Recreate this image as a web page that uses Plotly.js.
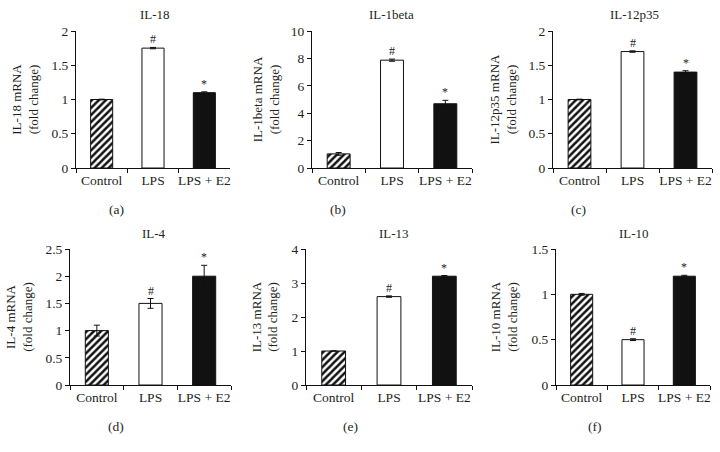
<!DOCTYPE html>
<html><head><meta charset="utf-8">
<script src="https://cdn.plot.ly/plotly-3.0.1.min.js"></script>
<style>html,body{margin:0;padding:0;background:#fff}#chart{width:720px;height:452px}</style>
</head><body><div id="chart"></div>
<script>
const categories = ["Control", "LPS", "LPS + E2"];
const panelTitles = ["IL-18", "IL-1beta", "IL-12p35", "IL-4", "IL-13", "IL-10"];
const panelLetters = ["(a)", "(b)", "(c)", "(d)", "(e)", "(f)"];
const yTitles = ["IL-18 mRNA<br>(fold change)", "IL-1beta mRNA<br>(fold change)", "IL-12p35 mRNA<br>(fold change)",
                 "IL-4 mRNA<br>(fold change)", "IL-13 mRNA<br>(fold change)", "IL-10 mRNA<br>(fold change)"];
const il18 = [1.0, 1.75, 1.10];
const il18Err = [0.005, 0.01, 0.012];
const il1beta = [1.03, 7.87, 4.69];
const il1betaErr = [0.1, 0.08, 0.25];
const il12p35 = [1.0, 1.70, 1.40];
const il12p35Err = [0.005, 0.01, 0.02];
const il4 = [1.0, 1.5, 2.0];
const il4Err = [0.1, 0.09, 0.2];
const il13 = [1.0, 2.6, 3.2];
const il13Err = [0.005, 0.02, 0.02];
const il10 = [1.0, 0.5, 1.2];
const il10Err = [0.01, 0.01, 0.01];
const sigMarks = ["", "#", "*"];
const yRanges = [[0, 2], [0, 10], [0, 2], [0, 2.5], [0, 4], [0, 1.5]];
const yDtick = [0.5, 2, 0.5, 0.5, 1, 0.5];

const values = [il18, il1beta, il12p35, il4, il13, il10];
const errors = [il18Err, il1betaErr, il12p35Err, il4Err, il13Err, il10Err];

// bar styles per category
const barFill = ["#ffffff", "#ffffff", "#111111"];
const barPattern = ["/", "", ""];

// layout geometry (pixels)
const W = 720, H = 452;
const xPix = [[76, 230], [312, 472], [553, 712], [70, 231], [306, 472], [556, 710]];
const yPix = [[31, 168], [31, 168], [31, 168], [249, 385], [249, 385], [249, 385]];
const titlePos = [[155, 14], [392, 14], [634, 14], [154, 233], [394, 233], [634, 233]];
const letterPos = [[116, 210], [338, 210], [578, 210], [116, 426], [350, 426], [595, 426]];
const standoffs = [9, 8, 8.5, 9, 10, 10.5];

const font = {family: "Liberation Serif, Times New Roman, serif", size: 13.5, color: "#231f20"};
const titleFont = {family: font.family, size: 13, color: font.color};
const traces = [];
const layout = {
  width: W, height: H, margin: {l: 0, r: 0, t: 0, b: 0},
  paper_bgcolor: "#fff", plot_bgcolor: "#fff", showlegend: false,
  font: font, annotations: [], barmode: "overlay"
};

for (let i = 0; i < 6; i++) {
  const s = i === 0 ? "" : String(i + 1);
  for (let j = 0; j < 3; j++) {
    const marker = {color: barFill[j], line: {color: "#111111", width: 1}};
    if (barPattern[j]) {
      marker.pattern = {shape: barPattern[j], fgcolor: "#111111", bgcolor: "#ffffff", size: 5, solidity: 0.5};
    }
    traces.push({
      type: "bar", x: [categories[j]], y: [values[i][j]],
      xaxis: "x" + s, yaxis: "y" + s, width: 0.43, marker: marker,
      error_y: {type: "data", array: [errors[i][j]], visible: true, color: "#111111", thickness: 1, width: 3},
      hoverinfo: "skip"
    });
  }
  layout["xaxis" + s] = {
    domain: [xPix[i][0] / W, xPix[i][1] / W], anchor: "y" + s,
    type: "category", categoryarray: categories, categoryorder: "array",
    range: [-0.5, 2.5], showgrid: false, zeroline: false,
    showline: true, linecolor: "#111", linewidth: 1, tickangle: 0,
    ticks: "outside", tickson: "boundaries", ticklen: 4, tickcolor: "#111",
    tickfont: font, fixedrange: true
  };
  layout["yaxis" + s] = {
    domain: [1 - yPix[i][1] / H, 1 - yPix[i][0] / H], anchor: "x" + s,
    range: yRanges[i], dtick: yDtick[i], tick0: 0, showgrid: false, zeroline: false,
    showline: true, linecolor: "#111", linewidth: 1,
    ticks: "outside", ticklen: 4, tickcolor: "#111", tickfont: font,
    title: {text: yTitles[i], font: titleFont, standoff: standoffs[i]}, fixedrange: true
  };
  layout.annotations.push({
    text: panelTitles[i], xref: "paper", yref: "paper",
    x: titlePos[i][0] / W, y: 1 - titlePos[i][1] / H, showarrow: false,
    xanchor: "center", yanchor: "middle", font: titleFont
  });
  layout.annotations.push({
    text: panelLetters[i], xref: "paper", yref: "paper",
    x: letterPos[i][0] / W, y: 1 - letterPos[i][1] / H, showarrow: false,
    xanchor: "center", yanchor: "middle", font: font
  });
  for (let j = 0; j < 3; j++) {
    if (!sigMarks[j]) continue;
    layout.annotations.push({
      text: sigMarks[j], xref: "x" + s, yref: "y" + s,
      x: categories[j], y: values[i][j] + errors[i][j], showarrow: false,
      xanchor: "center", yanchor: "bottom", yshift: -1,
      font: {family: font.family, size: 12, color: font.color}
    });
  }
}

Plotly.newPlot("chart", traces, layout, {staticPlot: true, displayModeBar: false});
</script></body></html>
